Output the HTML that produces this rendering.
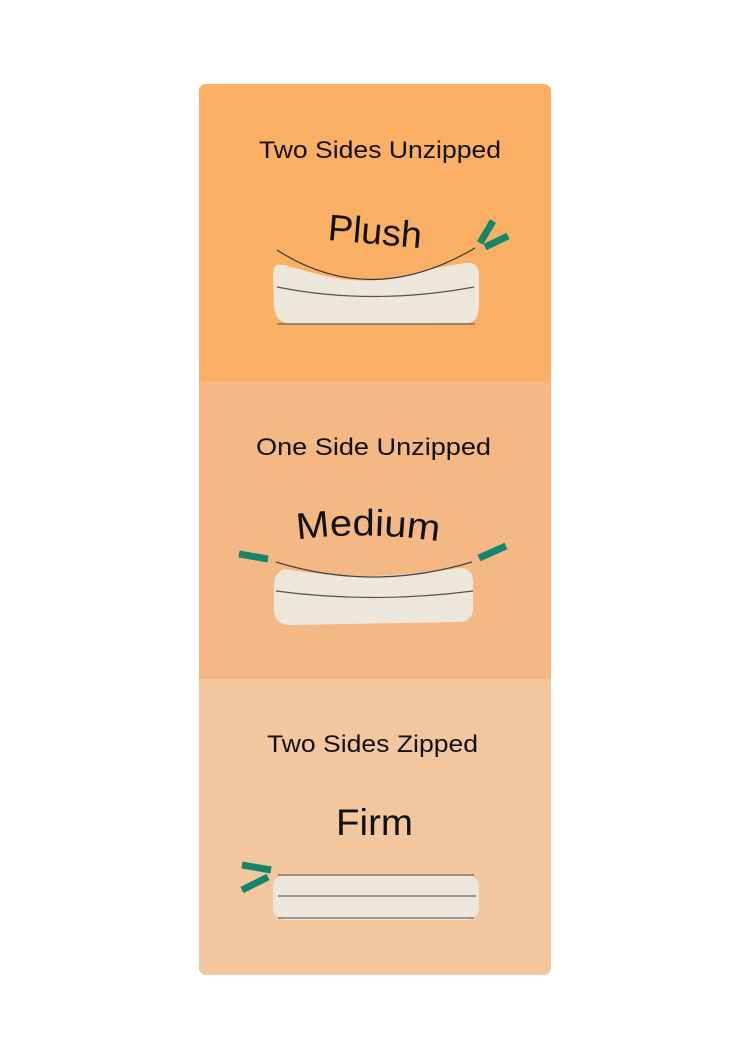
<!DOCTYPE html>
<html><head><style>
html,body{margin:0;padding:0;background:#fff;}
body{width:750px;height:1060px;position:relative;overflow:hidden;}
svg{position:absolute;left:0;top:0;}
text{font-family:"Liberation Sans",sans-serif;fill:#111;}
</style></head><body>
<svg width="750" height="1060" viewBox="0 0 750 1060">
<defs><clipPath id="c"><rect x="199" y="84" width="352" height="891" rx="7"/></clipPath></defs>
<g clip-path="url(#c)">
<rect x="199" y="84" width="352" height="298" fill="#F9B064"/>
<rect x="199" y="381" width="352" height="299" fill="#F3B883"/>
<rect x="199" y="679" width="352" height="296" fill="#F3C69E"/>
</g>
<!-- Section 1 -->
<text x="259" y="158" font-size="24" textLength="242" lengthAdjust="spacingAndGlyphs">Two Sides Unzipped</text>
<text x="375" y="244" font-size="37" text-anchor="middle" textLength="94" lengthAdjust="spacingAndGlyphs" transform="rotate(5 375 232)">Plush</text>
<path d="M280,265 Q274,262 273,275 L274,308 Q276,323 292,324 L468,323 Q479,322 479,305 L479,275 Q479,262 466,263 Q430,268 410,275 Q370,285 330,277 Q300,270 285,265 Z" fill="#EDE6DA"/>
<path d="M277,250 Q370,310 475,248" fill="none" stroke="#3a3a3a" stroke-width="1.2"/>
<path d="M277,287 Q372,306 474,287" fill="none" stroke="#555" stroke-width="1.2"/>
<path d="M277,324 L475,324" stroke="#665" stroke-width="1.2"/>
<line x1="480" y1="243" x2="493" y2="221" stroke="#15866C" stroke-width="7"/>
<line x1="485" y1="247" x2="508" y2="236" stroke="#15866C" stroke-width="7"/>
<!-- Section 2 -->
<text x="256" y="455" font-size="24" textLength="235" lengthAdjust="spacingAndGlyphs">One Side Unzipped</text>
<path id="p2" d="M294,540 Q368,530 442,542" fill="none"/>
<text font-size="37"><textPath href="#p2" startOffset="50%" text-anchor="middle" textLength="142" lengthAdjust="spacingAndGlyphs">Medium</textPath></text>
<path d="M285,569 Q273,572 274,590 L274,612 Q276,626 292,625 L460,622 Q474,621 473,605 L473,582 Q473,568 460,568 Q420,574 372,576 Q320,576 285,569 Z" fill="#EDE6DA"/>
<path d="M276,562 Q372,592 472,562" fill="none" stroke="#444" stroke-width="1.2"/>
<path d="M276,591 Q372,604 473,591" fill="none" stroke="#555" stroke-width="1.2"/>
<line x1="239" y1="554" x2="268" y2="559" stroke="#15866C" stroke-width="7"/>
<line x1="479" y1="558" x2="506" y2="546" stroke="#15866C" stroke-width="7"/>
<!-- Section 3 -->
<text x="267" y="752" font-size="24" textLength="211" lengthAdjust="spacingAndGlyphs">Two Sides Zipped</text>
<text x="336" y="835" font-size="37" textLength="77" lengthAdjust="spacingAndGlyphs">Firm</text>
<rect x="273" y="875" width="206" height="45" rx="12" fill="#EDE6DA"/>
<path d="M278,875 L474,875 M278,896 L476,896 M278,918 L474,918" stroke="#666" stroke-width="1.2"/>
<line x1="242" y1="865" x2="271" y2="870" stroke="#15866C" stroke-width="7"/>
<line x1="242" y1="890" x2="268" y2="877" stroke="#15866C" stroke-width="7"/>
</svg>
</body></html>
